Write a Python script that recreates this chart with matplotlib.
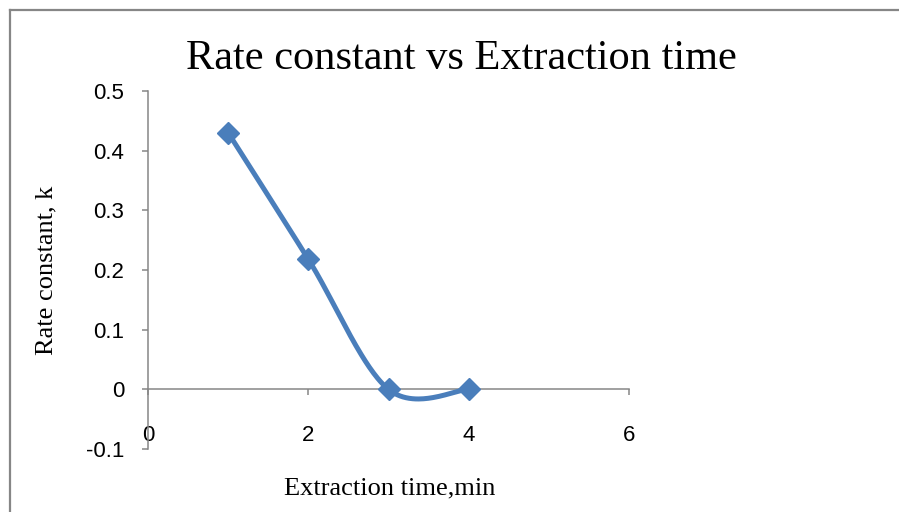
import numpy as np
import matplotlib.pyplot as plt
from matplotlib.lines import Line2D

# data
extraction_time = [1, 2, 3, 4]
rate_constant = [0.43, 0.218, 0.0, 0.0]
x_ticks = [0, 2, 4, 6]
y_ticks = [-0.1, 0, 0.1, 0.2, 0.3, 0.4, 0.5]
y_tick_labels = ['-0.1', '0', '0.1', '0.2', '0.3', '0.4', '0.5']

LINE_BLUE = '#4a7ebb'
AXIS_GREY = '#868686'


def excel_smooth(xs, ys, n=60):
    """Bezier smoothing like the 'smoothed line' option of a spreadsheet chart."""
    pts = np.column_stack([xs, ys]).astype(float)
    padded = np.vstack([pts[0], pts, pts[-1]])
    out = []
    for i in range(len(pts) - 1):
        p0, p1, p2, p3 = padded[i], padded[i + 1], padded[i + 2], padded[i + 3]
        c1 = p1 + (p2 - p0) / 6
        c2 = p2 - (p3 - p1) / 6
        t = np.linspace(0, 1, n)[:, None]
        seg = ((1 - t) ** 3) * p1 + 3 * ((1 - t) ** 2) * t * c1 \
            + 3 * (1 - t) * t ** 2 * c2 + t ** 3 * p2
        out.append(seg if i == 0 else seg[1:])
    curve = np.vstack(out)
    return curve[:, 0], curve[:, 1]


fig = plt.figure(figsize=(8.99, 5.12), dpi=100)
ax = fig.add_axes([148 / 899, 63 / 512, 481 / 899, 358 / 512])

sx, sy = excel_smooth(extraction_time, rate_constant)
ax.plot(sx, sy, color=LINE_BLUE, lw=3.6, solid_capstyle='round', zorder=3)
ax.plot(extraction_time, rate_constant, linestyle='none', marker='D',
        markersize=11, color=LINE_BLUE, zorder=4)

ax.set_xlim(0, 6)
ax.set_ylim(-0.1, 0.5)
ax.spines['top'].set_visible(False)
ax.spines['right'].set_visible(False)
ax.spines['left'].set_position(('data', 0))
ax.spines['bottom'].set_position(('data', 0))
for s in ('left', 'bottom'):
    ax.spines[s].set_color(AXIS_GREY)
    ax.spines[s].set_linewidth(1.1)

ax.set_xticks(x_ticks)
ax.set_xticklabels([str(v) for v in x_ticks])
ax.set_yticks(y_ticks)
ax.set_yticklabels(y_tick_labels)
ax.tick_params(axis='x', direction='out', length=4, width=1.1, color=AXIS_GREY,
               pad=22, labelsize=16)
ax.tick_params(axis='y', direction='out', length=4, width=1.1, color=AXIS_GREY,
               pad=13, labelsize=16)
for lab in ax.get_xticklabels() + ax.get_yticklabels():
    lab.set_fontfamily('Liberation Sans')

fig.text(461 / 899, 1 - 59 / 512, 'Rate constant vs Extraction time',
         family='Liberation Serif', fontsize=30.5, ha='center', va='center')
fig.text(390 / 899, 1 - 488 / 512, 'Extraction time,min',
         family='Liberation Serif', fontsize=19, ha='center', va='center')
fig.text(46 / 899, 1 - 270 / 512, 'Rate constant, k',
         family='Liberation Serif', fontsize=19, ha='center', va='center',
         rotation=90)

# outer chart frame (only left and top edges fall inside the picture)
fig.add_artist(Line2D([10 / 899, 10 / 899], [0, 1 - 10 / 512],
                      transform=fig.transFigure, color=AXIS_GREY, lw=1.6))
fig.add_artist(Line2D([10 / 899, 1], [1 - 10 / 512, 1 - 10 / 512],
                      transform=fig.transFigure, color=AXIS_GREY, lw=1.6))

fig.savefig('out.png', dpi=100)
